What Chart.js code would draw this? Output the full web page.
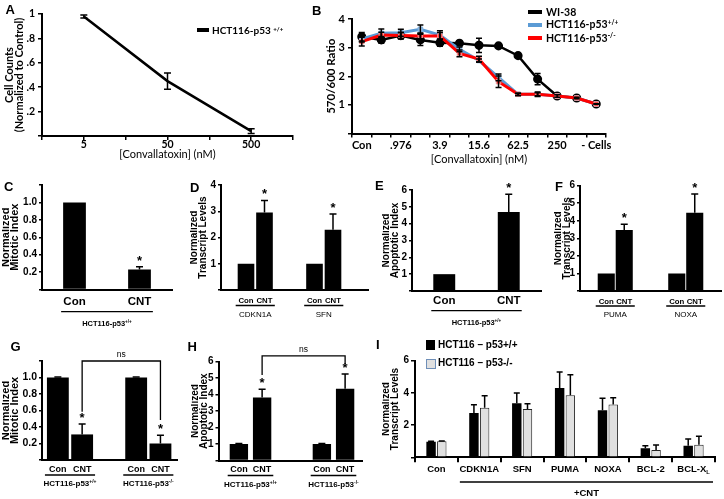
<!DOCTYPE html>
<html><head><meta charset="utf-8"><title>Convallatoxin figure</title>
<script src="https://cdn.jsdelivr.net/npm/chart.js@4.4.1/dist/chart.umd.min.js"></script>
<style>
html,body{margin:0;padding:0;background:#fff;}
body{position:relative;width:724px;height:499px;overflow:hidden;font-family:"Liberation Sans",Arial,sans-serif;color:#000;}
.t{position:absolute;white-space:nowrap;line-height:1;color:#000;}
.sw{position:absolute;box-sizing:border-box;}
.sup{font-size:0.62em;position:relative;top:-0.5em;}
.sub{font-size:0.62em;position:relative;top:0.25em;}
canvas{display:block;}
</style></head><body>
<script>
// ================= DATA =================
// Panel A
const aDoseLabels = ['', '5', '', '50', '', '500', ''];
const aCellCounts = [null, 0.98, null, 0.45, null, 0.04, null];
const aCellErr    = [null, 0.012, null, 0.067, null, 0.02, null];
const aYTicks = ['', '.2', '.4', '.6', '.8', '1'];
const aSeries = 'HCT116-p53 ^{+/+}';
// Panel B
const bDoseLabels = ['Con', '', '.976', '', '3.9', '', '15.6', '', '62.5', '', '250', '', '- Cells'];
const bWI38    = [3.38, 3.27, 3.42, 3.27, 3.17, 3.15, 3.08, 3.06, 2.72, 1.90, 1.31, 1.24, 1.03];
const bWI38Err = [0.15, 0.12, 0.12, 0.20, 0.12, 0.05, 0.25, 0.04, 0.03, 0.20, 0.04, 0.03, 0.01];
const bWT      = [3.30, 3.50, 3.52, 3.64, 3.44, 2.94, 2.55, 1.96, 1.37, 1.37, 1.31, 1.24, 1.03];
const bWTErr   = [0.10, 0.15, 0.12, 0.15, 0.15, 0.08, 0.05, 0.12, 0.04, 0.05, null, null, null];
const bKO      = [3.21, 3.44, 3.42, 3.41, 3.41, 2.80, 2.60, 1.81, 1.37, 1.37, 1.31, 1.24, 1.03];
const bKOErr   = [0.15, 0.10, 0.10, 0.10, 0.12, 0.12, 0.10, 0.20, 0.04, 0.08, null, null, null];
const bYTicks = ['', '1', '2', '3', '4'];
const bSeries = ['WI-38', 'HCT116-p53^{+/+}', 'HCT116-p53^{-/-}'];
// Panel C
const cTreat = ['Con', 'CNT'];
const cMitotic = [1.0, 0.23];
const cMitoticErr = [null, 0.03];
const cSig = [false, true];
const cCellLine = 'HCT116-p53^{+/+}';
const cYTicks = ['', '0.2', '0.4', '0.6', '0.8', '1.0', ''];
// Panel D
const dGenes = ['CDKN1A', 'SFN'];
const dCon = [1.0, 1.0];
const dCNT = [2.95, 2.30];
const dCNTErr = [0.46, 0.60];
const dSig = [true, true];
const dYTicks = ['', '1', '2', '3', '4'];
// Panel E
const eTreat = ['Con', 'CNT'];
const eApop = [1.0, 4.7];
const eApopErr = [null, 1.05];
const eSig = [false, true];
const eCellLine = 'HCT116-p53^{+/+}';
const eYTicks = ['', '1', '2', '3', '4', '5', '6'];
// Panel F
const fGenes = ['PUMA', 'NOXA'];
const fCon = [1.0, 1.0];
const fCNT = [3.47, 4.46];
const fCNTErr = [0.33, 1.06];
const fSig = [true, true];
const fYTicks = ['', '1', '2', '3', '4', '5', '6'];
// Panels G and H
const ghCells = ['HCT116-p53^{+/+}', 'HCT116-p53^{-/-}'];
const gCon = [1.0, 1.0];
const gConErr = [0.005, 0.005];
const gCNT = [0.31, 0.20];
const gCNTErr = [0.125, 0.10];
const gSig = [true, true];
const gYTicks = ['', '0.2', '0.4', '0.6', '0.8', '1.0', ''];
const hCon = [1.0, 1.0];
const hConErr = [0.03, 0.03];
const hCNT = [3.82, 4.35];
const hCNTErr = [0.50, 0.90];
const hSig = [true, true];
const hYTicks = ['', '1', '2', '3', '4', '5', '6'];
// Panel I
const iGenes = ['Con', 'CDKN1A', 'SFN', 'PUMA', 'NOXA', 'BCL-2', 'BCL-X_{L}'];
const iWT    = [0.97, 2.75, 3.35, 4.30, 2.92, 0.56, 0.72];
const iWTErr = [0.02, 0.52, 0.65, 1.00, 0.75, 0.15, 0.42];
const iKO    = [1.00, 3.08, 3.00, 3.85, 3.28, 0.45, 0.78];
const iKOErr = [0.02, 0.75, 0.32, 1.28, 0.42, 0.32, 0.52];
const iSeries = ['HCT116 \u2013 p53+/+', 'HCT116 \u2013 p53-/-'];
const iYTicks = ['', '2', '4', '6'];

// ================= HELPERS =================
const SANS = '"Liberation Sans", Arial, sans-serif';
const LATO = 'Lato, "Liberation Sans", sans-serif';
Chart.defaults.font.family = SANS;
Chart.defaults.color = '#000';
Chart.defaults.plugins.legend.display = false;
Chart.defaults.plugins.tooltip.enabled = false;
Chart.defaults.events = [];
Chart.defaults.animation = false;

function parseRich(s) {
  const out = []; const re = /\^\{([^}]*)\}|_\{([^}]*)\}|([^^_]+)/g; let m;
  while ((m = re.exec(s))) {
    if (m[1] !== undefined) out.push([m[1], 'sup']);
    else if (m[2] !== undefined) out.push([m[2], 'sub']);
    else out.push([m[3], 'n']);
  }
  return out;
}
function drawRich(ctx, s, x, y, f) {
  const parts = parseRich(String(s));
  const fam = f.family || SANS, size = f.size || 9, weight = f.weight || 'bold';
  const fontFor = k => `${weight} ${k === 'n' ? size : size * 0.62}px ${fam}`;
  let total = 0;
  const widths = parts.map(([t, k]) => { ctx.font = fontFor(k); const w = ctx.measureText(t).width; total += w; return w; });
  let cx = x - total / 2;
  ctx.textAlign = 'left'; ctx.textBaseline = 'alphabetic'; ctx.fillStyle = '#000';
  const base = y + size * 0.358;
  parts.forEach(([t, k], i) => {
    ctx.font = fontFor(k);
    const dy = k === 'sup' ? -size * 0.4 : k === 'sub' ? size * 0.22 : 0;
    ctx.fillText(t, cx, base + dy); cx += widths[i];
  });
}
function richHTML(s) {
  return s.replace(/\^\{([^}]*)\}/g, '<span class="sup">$1</span>').replace(/_\{([^}]*)\}/g, '<span class="sub">$1</span>');
}
function addText(s, x, yc, size, fam, weight) {
  const d = document.createElement('div'); d.className = 't'; d.innerHTML = richHTML(s);
  const k = fam === LATO ? 0.53 : 0.49;
  d.style.cssText = `left:${x}px;top:${yc - k * size}px;font-size:${size}px;font-family:${fam};font-weight:${weight || 'bold'};`;
  document.body.appendChild(d);
}
function addBox(x, y, w, h, css) {
  const d = document.createElement('div'); d.className = 'sw';
  d.style.cssText = `left:${x}px;top:${y}px;width:${w}px;height:${h}px;${css}`;
  document.body.appendChild(d);
}

const errPlugin = {
  id: 'errbars',
  afterDatasetsDraw(chart) {
    const ctx = chart.ctx, ys = chart.scales.y;
    chart.data.datasets.forEach((ds, di) => {
      if (!ds.errors) return;
      const meta = chart.getDatasetMeta(di);
      meta.data.forEach((el, i) => {
        const v = ds.data[i], e = ds.errors[i];
        if (v == null || e == null) return;
        const x = el.x, cap = ds.errCap || 3.5;
        const yt = ys.getPixelForValue(v + e);
        const yb = ds.errBoth ? ys.getPixelForValue(v - e) : ys.getPixelForValue(v);
        ctx.save();
        ctx.strokeStyle = '#000'; ctx.lineWidth = ds.errWidth || 1.5;
        ctx.beginPath();
        ctx.moveTo(x, yb); ctx.lineTo(x, yt);
        ctx.moveTo(x - cap, yt); ctx.lineTo(x + cap, yt);
        if (ds.errBoth) { ctx.moveTo(x - cap, yb); ctx.lineTo(x + cap, yb); }
        ctx.stroke();
        if (ds.sig && ds.sig[i]) {
          ctx.fillStyle = '#000'; ctx.font = 'bold 13px ' + SANS;
          ctx.textAlign = 'center'; ctx.textBaseline = 'alphabetic';
          ctx.fillText('*', x, yt - 2);
        }
        ctx.restore();
      });
    });
  }
};

const underPlugin = {
  id: 'under',
  afterDraw(chart, args, o) {
    if (!o || !o.on) return;
    const ctx = chart.ctx, base = chart.chartArea.bottom, xs = chart.scales.x;
    const labels = chart.data.labels;
    const metas = chart.data.datasets.map((d, i) => chart.getDatasetMeta(i));
    ctx.save(); ctx.strokeStyle = '#000'; ctx.fillStyle = '#000';
    const ext = idxs => {
      let lo = Infinity, hi = -Infinity;
      metas.forEach(m => idxs.forEach(i => { const el = m.data[i]; if (!el) return; lo = Math.min(lo, el.x - el.width / 2); hi = Math.max(hi, el.x + el.width / 2); }));
      return [lo, hi];
    };
    if (o.barText) chart.data.datasets.forEach((ds, di) => metas[di].data.forEach(el => drawRich(ctx, ds.label, el.x, base + o.barText.dy, o.barText)));
    if (o.line || o.text) {
      const groups = o.perCat ? labels.map((l, i) => [i]) : [labels.map((l, i) => i)];
      groups.forEach((g, gi) => {
        const [lo, hi] = ext(g);
        if (o.line) { ctx.lineWidth = 1.3; ctx.beginPath(); ctx.moveTo(lo - o.line.pad, base + o.line.dy); ctx.lineTo(hi + o.line.pad, base + o.line.dy); ctx.stroke(); }
        if (o.text) { const s = o.text.texts ? o.text.texts[gi] : labels[g[0]]; drawRich(ctx, s, (lo + hi) / 2, base + o.text.dy, o.text); }
      });
    }
    if (o.catText) labels.forEach((l, i) => drawRich(ctx, l, xs.getPixelForValue(i), base + o.catText.dy, o.catText));
    if (o.span) {
      const half = (xs.getPixelForValue(1) - xs.getPixelForValue(0)) / 2;
      const lo = xs.getPixelForValue(o.span.from) - half + 2, hi = chart.chartArea.right - 2;
      ctx.lineWidth = 1.3; ctx.beginPath(); ctx.moveTo(lo, base + o.span.dy); ctx.lineTo(hi, base + o.span.dy); ctx.stroke();
      drawRich(ctx, o.span.text, (lo + hi) / 2, base + o.span.textDy, o.span);
    }
    ctx.restore();
  }
};

const bracketPlugin = {
  id: 'bracket',
  afterDraw(chart, args, o) {
    if (!o || !o.on) return;
    const ctx = chart.ctx, ys = chart.scales.y;
    const xa = chart.getDatasetMeta(o.a[0]).data[o.a[1]].x;
    const xb = chart.getDatasetMeta(o.b[0]).data[o.b[1]].x;
    const yt = ys.getPixelForValue(o.top);
    ctx.save(); ctx.strokeStyle = '#000'; ctx.lineWidth = 1.3;
    ctx.beginPath();
    ctx.moveTo(xa, ys.getPixelForValue(o.endA)); ctx.lineTo(xa, yt); ctx.lineTo(xb, yt); ctx.lineTo(xb, ys.getPixelForValue(o.endB));
    ctx.stroke();
    drawRich(ctx, o.text, (xa + xb) / 2, yt - o.gap, o);
    ctx.restore();
  }
};
Chart.register(errPlugin, underPlugin, bracketPlugin);

function yAxis(min, max, step, tickLabels, title, s) {
  s = s || {};
  return {
    min, max,
    ticks: {stepSize: step, autoSkip: false, callback: (v, i) => tickLabels[i] || '', font: {family: s.family || SANS, size: s.tick || 10, weight: 'bold'}, padding: s.tickPad ?? 2},
    grid: {drawOnChartArea: false, tickLength: s.tickLen || 3, color: '#000', lineWidth: 1.5},
    border: {color: '#000', width: 2},
    title: {display: true, text: title, align: s.align || 'center', color: '#000', font: {family: s.family || SANS, size: s.title || 10, weight: 'bold', lineHeight: s.lh || 0.9}, padding: {top: s.titlePad || 0, bottom: 0}}
  };
}
function xBars(s) {
  s = s || {};
  const ax = {
    grid: {display: false, drawTicks: false},
    border: {color: '#000', width: 2},
    ticks: {display: s.show !== false, autoSkip: false, maxRotation: 0, font: {size: s.size || 11, weight: s.weight || 'bold'}, padding: s.pad || 0}
  };
  if (s.span) ax.afterBuildTicks = sc => { sc._startValue = s.span[0]; sc._valueRange = s.span[1]; };
  return ax;
}
function panel(box, area, cfg) {
  const c = document.createElement('canvas');
  c.width = box.w; c.height = box.h;
  c.style.cssText = `position:absolute;left:${box.x}px;top:${box.y}px;width:${box.w}px;height:${box.h}px;`;
  document.body.appendChild(c);
  const o = cfg.options;
  o.responsive = false; o.maintainAspectRatio = false; o.devicePixelRatio = 1; o.animation = false;
  o.layout = {padding: {left: 0, top: area.t - box.y, right: box.x + box.w - area.r, bottom: 0}};
  o.scales.x.afterFit = sc => { sc.height = box.y + box.h - area.b; };
  o.scales.y.afterFit = sc => { sc.width = area.l - box.x; };
  return new Chart(c, cfg);
}
const black = '#000';

// ================= PANEL A =================
panel({x: 2, y: 0, w: 305, h: 163}, {l: 42, t: 14, r: 293, b: 136}, {
  type: 'line',
  data: {labels: aDoseLabels, datasets: [{label: aSeries, data: aCellCounts, errors: aCellErr, errBoth: true, errCap: 3.5,
    borderColor: black, borderWidth: 2.5, pointRadius: 0, spanGaps: true}]},
  options: {scales: {
    x: {type: 'category', offset: false, grid: {drawOnChartArea: false, tickLength: 4, color: black, lineWidth: 1.5}, border: {color: black, width: 2},
        ticks: {autoSkip: false, maxRotation: 0, font: {family: LATO, size: 10.5, weight: 'bold'}, padding: -2},
        title: {display: true, text: '[Convallatoxin] (nM)', font: {family: LATO, size: 11}, padding: {top: 0, bottom: 2}}},
    y: yAxis(0, 1, 0.2, aYTicks, ['Cell Counts', '(Normalized to Control)'], {family: LATO, tick: 10.5, tickLen: 4, title: 11, lh: 0.9, titlePad: 3, tickPad: 3})
  }}
});
addBox(197, 28.3, 12, 3.5, 'background:#000;');
addText(aSeries, 212, 30, 10, LATO);

// ================= PANEL B =================
const chartB = panel({x: 322, y: 0, w: 400, h: 166}, {l: 352, t: 19, r: 606, b: 133.5}, {
  type: 'line',
  data: {labels: bDoseLabels, datasets: [
    {label: bSeries[2], data: bKO, errors: bKOErr, errBoth: true, errCap: 3, borderColor: '#ff0000', borderWidth: 3,
     pointStyle: 'rect', pointRadius: 3.2, pointBackgroundColor: '#ff3030', pointBorderColor: '#eaa0a0', pointBorderWidth: 1, order: 1},
    {label: bSeries[1], data: bWT, errors: bWTErr, errBoth: true, errCap: 3, borderColor: '#5b9bd5', borderWidth: 3,
     pointStyle: 'rect', pointRadius: 3.2, pointBackgroundColor: '#9cc2e5', pointBorderColor: '#7eb0de', pointBorderWidth: 1, order: 2},
    {label: bSeries[0], data: bWI38, errors: bWI38Err, errBoth: true, errCap: 3, borderColor: black, borderWidth: 2.5,
     pointRadius: 3.3, pointBackgroundColor: black, pointBorderColor: black, order: 3}
  ]},
  options: {scales: {
    x: {type: 'category', offset: true, grid: {offset: true, drawOnChartArea: false, tickLength: 4, color: black, lineWidth: 1.5}, border: {color: black, width: 2},
        ticks: {autoSkip: false, maxRotation: 0, font: {family: LATO, size: 11, weight: 'bold'}, padding: 1},
        title: {display: true, text: '[Convallatoxin] (nM)', font: {family: LATO, size: 11}, padding: {top: 0, bottom: 0}}},
    y: yAxis(0, 4, 1, bYTicks, '570/600 Ratio', {family: LATO, tick: 11, tickLen: 4, title: 11.5, lh: 1.2, titlePad: 2, tickPad: 3})
  }}
});
[2, 1, 0].forEach((di, k) => {
  const ds = chartB.data.datasets[di];
  const yc = [12.3, 25, 38.3][k];
  addBox(528, yc - 2, 14, 4, `background:${ds.borderColor};`);
  addText(ds.label, 546, yc, 10.5, LATO);
});

// ================= PANEL C =================
panel({x: 2, y: 176, w: 180, h: 156}, {l: 42, t: 185, r: 172, b: 289.5}, {
  type: 'bar',
  data: {labels: cTreat, datasets: [{label: '', data: cMitotic, errors: cMitoticErr, sig: cSig, backgroundColor: black, barPercentage: 0.35, categoryPercentage: 1}]},
  options: {scales: {x: xBars({size: 11.5, pad: 5}), y: yAxis(0, 1.2, 0.2, cYTicks, ['Normalized', 'Mitotic Index'], {tick: 10, title: 11, lh: 0.8})},
    plugins: {under: {on: true, line: {dy: 22.2, pad: 2}, text: {dy: 33.5, size: 7.5, texts: [cCellLine]}}}}
});

// ================= PANEL D =================
panel({x: 190, y: 176, w: 180, h: 150}, {l: 221, t: 185, r: 368, b: 290}, {
  type: 'bar',
  data: {labels: dGenes, datasets: [
    {label: 'Con', data: dCon, backgroundColor: black, categoryPercentage: 0.54, barPercentage: 0.9},
    {label: 'CNT', data: dCNT, errors: dCNTErr, sig: dSig, backgroundColor: black, categoryPercentage: 0.54, barPercentage: 0.9}]},
  options: {scales: {x: xBars({size: 8, weight: 'normal', pad: 19.5, span: [-0.5, 147 / 68.5]}), y: yAxis(0, 4, 1, dYTicks, ['Normalized', 'Transcript Levels'], {tick: 10, title: 10, lh: 0.9})},
    plugins: {under: {on: true, perCat: true, barText: {dy: 10.5, size: 7.8}, line: {dy: 15.5, pad: 2}}}}
});

// ================= PANEL E =================
panel({x: 382, y: 176, w: 165, h: 156}, {l: 412, t: 190, r: 541, b: 291}, {
  type: 'bar',
  data: {labels: eTreat, datasets: [{label: '', data: eApop, errors: eApopErr, sig: eSig, backgroundColor: black, barPercentage: 0.34, categoryPercentage: 1}]},
  options: {scales: {x: xBars({size: 11.5, pad: 2.5}), y: yAxis(0, 6, 1, eYTicks, ['Normalized', 'Apoptotic Index'], {tick: 10, title: 10, lh: 0.9})},
    plugins: {under: {on: true, line: {dy: 19.7, pad: 2}, text: {dy: 31.5, size: 7.5, texts: [eCellLine]}}}}
});

// ================= PANEL F =================
panel({x: 554, y: 176, w: 170, h: 150}, {l: 580, t: 185.7, r: 721, b: 291}, {
  type: 'bar',
  data: {labels: fGenes, datasets: [
    {label: 'Con', data: fCon, backgroundColor: black, categoryPercentage: 0.51, barPercentage: 0.95},
    {label: 'CNT', data: fCNT, errors: fCNTErr, sig: fSig, backgroundColor: black, categoryPercentage: 0.51, barPercentage: 0.95}]},
  options: {scales: {x: xBars({size: 8, weight: 'normal', pad: 19}), y: yAxis(0, 6, 1, fYTicks, ['Normalized', 'Transcript Levels'], {tick: 10, title: 10, lh: 0.9})},
    plugins: {under: {on: true, perCat: true, barText: {dy: 10, size: 7.8}, line: {dy: 15, pad: 2}}}}
});

// ================= PANEL G =================
panel({x: 2, y: 340, w: 180, h: 159}, {l: 42, t: 361, r: 177, b: 460}, {
  type: 'bar',
  data: {labels: ghCells, datasets: [
    {label: 'Con', data: gCon, errors: gConErr, backgroundColor: black, categoryPercentage: 0.62, barPercentage: 0.9},
    {label: 'CNT', data: gCNT, errors: gCNTErr, sig: gSig, backgroundColor: black, categoryPercentage: 0.62, barPercentage: 0.9}]},
  options: {scales: {x: xBars({show: false, span: [-0.3576, 1.724]}), y: yAxis(0, 1.2, 0.2, gYTicks, ['Normalized', 'Mitotic Index'], {tick: 10.5, title: 11, lh: 0.8})},
    plugins: {
      under: {on: true, perCat: true, barText: {dy: 8.5, size: 9}, line: {dy: 15, pad: 2}, text: {dy: 23.5, size: 8}},
      bracket: {on: true, a: [1, 0], b: [1, 1], top: 1.2, endA: 0.585, endB: 0.485, text: 'ns', gap: 7, size: 8.5, weight: 'normal'}}}
});

// ================= PANEL H =================
panel({x: 190.5, y: 340, w: 176, h: 159}, {l: 218, t: 361.7, r: 362, b: 460.5}, {
  type: 'bar',
  data: {labels: ghCells, datasets: [
    {label: 'Con', data: hCon, errors: hConErr, backgroundColor: black, categoryPercentage: 0.56, barPercentage: 0.79},
    {label: 'CNT', data: hCNT, errors: hCNTErr, sig: hSig, backgroundColor: black, categoryPercentage: 0.56, barPercentage: 0.79}]},
  options: {scales: {x: xBars({show: false, span: [-0.3855, 1.735]}), y: yAxis(0, 6, 1, hYTicks, ['Normalized', 'Apoptotic Index'], {tick: 10, title: 10, lh: 0.9})},
    plugins: {
      under: {on: true, perCat: true, barText: {dy: 8.5, size: 9}, line: {dy: 15, pad: 2}, text: {dy: 23.5, size: 8}},
      bracket: {on: true, a: [1, 0], b: [1, 1], top: 6.35, endA: 5.19, endB: 5.86, text: 'ns', gap: 6.5, size: 8.5, weight: 'normal'}}}
});

// ================= PANEL I =================
const chartI = panel({x: 382, y: 340, w: 342, h: 159}, {l: 415, t: 360.7, r: 715, b: 457.3}, {
  type: 'bar',
  data: {labels: iGenes, datasets: [
    {label: iSeries[0], data: iWT, errors: iWTErr, errCap: 3, backgroundColor: black, categoryPercentage: 0.5, barPercentage: 0.88},
    {label: iSeries[1], data: iKO, errors: iKOErr, errCap: 3, backgroundColor: '#e0e0e0', borderColor: '#222', borderWidth: 1, categoryPercentage: 0.5, barPercentage: 0.88}]},
  options: {scales: {
    x: {offset: true, grid: {offset: true, drawOnChartArea: false, tickLength: 5, color: black, lineWidth: 2}, border: {color: black, width: 2}, ticks: {display: false}},
    y: yAxis(0, 6, 2, iYTicks, ['Normalized', 'Transcript Levels'], {tick: 10, title: 10, lh: 0.9, tickLen: 4})},
    plugins: {under: {on: true, catText: {dy: 11.7, size: 9.5}, span: {from: 1, dy: 24.7, textDy: 35, text: '+CNT', size: 9.5}}}}
});
addBox(426, 340, 9, 10, 'background:#000;');
addBox(425.5, 358.5, 10, 10, 'background:#e0e0e0;border:1px solid #6f8fb8;');
addText(chartI.data.datasets[0].label, 438, 345, 10, SANS);
addText(chartI.data.datasets[1].label, 438, 363.3, 10, SANS);

// ================= PANEL LETTERS =================
[['A', 5.5, 9.5], ['B', 312, 10], ['C', 4, 186.7], ['D', 190, 187], ['E', 375, 185.5],
 ['F', 555, 186.7], ['G', 10.5, 346], ['H', 187.5, 346], ['I', 376, 344.5]].forEach(([s, x, y]) => addText(s, x, y, 13, SANS));
</script>
</body></html>
